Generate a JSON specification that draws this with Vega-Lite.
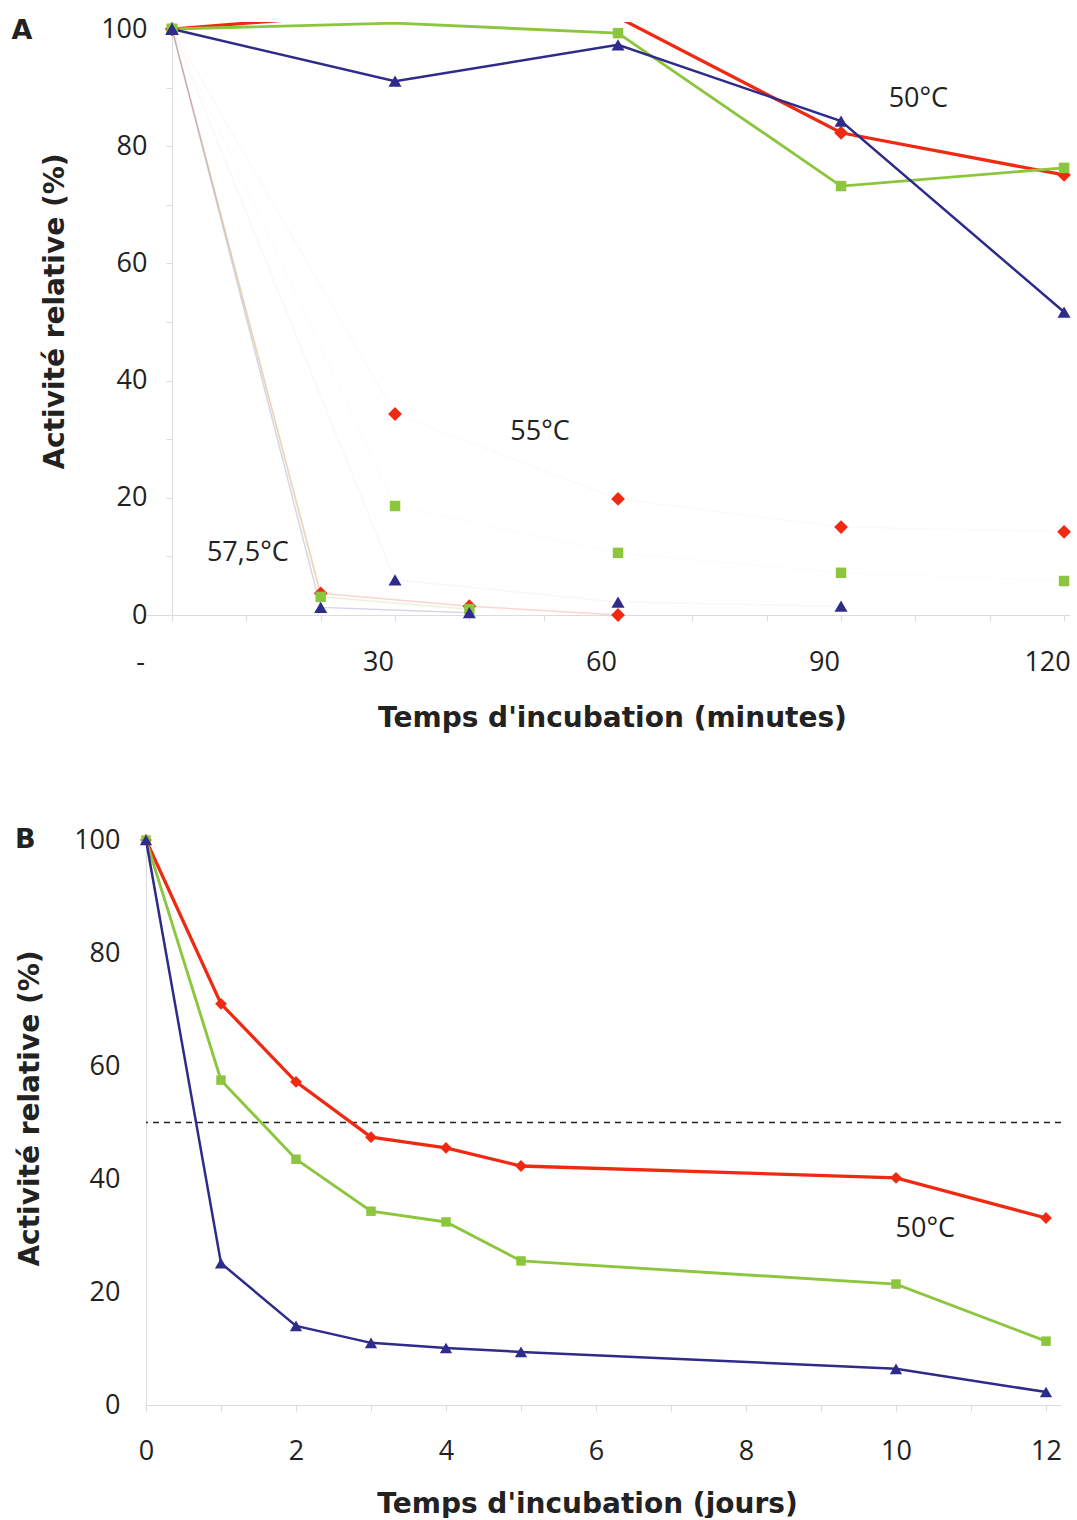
{
  "$schema": "https://vega.github.io/schema/vega-lite/v6.json",
  "background": "white",
  "padding": {"left": 11, "top": 15, "right": 0, "bottom": 0},
  "spacing": 94,
  "config": {
    "view": {"stroke": null},
    "axis": {
      "grid": false,
      "labelFont": "Open Sans",
      "labelFontSize": 27,
      "labelColor": "#222222",
      "titleFont": "DejaVu Sans",
      "titleFontSize": 28,
      "titleFontWeight": "bold",
      "titleColor": "#222222",
      "domainColor": "#dcdcdc",
      "tickColor": "#dcdcdc",
      "tickSize": 6,
      "labelOverlap": false,
      "labelFlush": false
    },
    "text": {"font": "Open Sans", "fontSize": 27, "color": "#222222"}
  },
  "datasets": {
    "minutes": [
      {"lot": "1", "temp": "50", "t": 0, "v": 100},
      {"lot": "1", "temp": "50", "t": 30, "v": 103},
      {"lot": "1", "temp": "50", "t": 60, "v": 102},
      {"lot": "1", "temp": "50", "t": 90, "v": 82.3},
      {"lot": "1", "temp": "50", "t": 120, "v": 75.1},
      {"lot": "2", "temp": "50", "t": 0, "v": 100},
      {"lot": "2", "temp": "50", "t": 30, "v": 101},
      {"lot": "2", "temp": "50", "t": 60, "v": 99.3},
      {"lot": "2", "temp": "50", "t": 90, "v": 73.2},
      {"lot": "2", "temp": "50", "t": 120, "v": 76.3},
      {"lot": "3", "temp": "50", "t": 0, "v": 100},
      {"lot": "3", "temp": "50", "t": 30, "v": 91.1},
      {"lot": "3", "temp": "50", "t": 60, "v": 97.3},
      {"lot": "3", "temp": "50", "t": 90, "v": 84.3},
      {"lot": "3", "temp": "50", "t": 120, "v": 51.7},
      {"lot": "1", "temp": "55", "t": 0, "v": 100},
      {"lot": "1", "temp": "55", "t": 30, "v": 34.3},
      {"lot": "1", "temp": "55", "t": 60, "v": 19.8},
      {"lot": "1", "temp": "55", "t": 90, "v": 15},
      {"lot": "1", "temp": "55", "t": 120, "v": 14.2},
      {"lot": "2", "temp": "55", "t": 0, "v": 100},
      {"lot": "2", "temp": "55", "t": 30, "v": 18.6},
      {"lot": "2", "temp": "55", "t": 60, "v": 10.6},
      {"lot": "2", "temp": "55", "t": 90, "v": 7.2},
      {"lot": "2", "temp": "55", "t": 120, "v": 5.8},
      {"lot": "3", "temp": "55", "t": 0, "v": 100},
      {"lot": "3", "temp": "55", "t": 30, "v": 6.0},
      {"lot": "3", "temp": "55", "t": 60, "v": 2.2},
      {"lot": "3", "temp": "55", "t": 90, "v": 1.5},
      {"lot": "1", "temp": "57,5", "t": 0, "v": 100},
      {"lot": "1", "temp": "57,5", "t": 20, "v": 3.7},
      {"lot": "1", "temp": "57,5", "t": 40, "v": 1.5},
      {"lot": "1", "temp": "57,5", "t": 60, "v": 0},
      {"lot": "2", "temp": "57,5", "t": 0, "v": 100},
      {"lot": "2", "temp": "57,5", "t": 20, "v": 3.1},
      {"lot": "2", "temp": "57,5", "t": 40, "v": 1.0},
      {"lot": "3", "temp": "57,5", "t": 0, "v": 100},
      {"lot": "3", "temp": "57,5", "t": 20, "v": 1.3},
      {"lot": "3", "temp": "57,5", "t": 40, "v": 0.4}
    ],
    "jours": [
      {"lot": "1", "t": 0, "v": 100},
      {"lot": "1", "t": 1, "v": 71},
      {"lot": "1", "t": 2, "v": 57.2},
      {"lot": "1", "t": 3, "v": 47.4},
      {"lot": "1", "t": 4, "v": 45.5},
      {"lot": "1", "t": 5, "v": 42.3},
      {"lot": "1", "t": 10, "v": 40.2},
      {"lot": "1", "t": 12, "v": 33.1},
      {"lot": "2", "t": 0, "v": 100},
      {"lot": "2", "t": 1, "v": 57.5},
      {"lot": "2", "t": 2, "v": 43.5},
      {"lot": "2", "t": 3, "v": 34.3},
      {"lot": "2", "t": 4, "v": 32.4},
      {"lot": "2", "t": 5, "v": 25.5},
      {"lot": "2", "t": 10, "v": 21.4},
      {"lot": "2", "t": 12, "v": 11.3},
      {"lot": "3", "t": 0, "v": 100},
      {"lot": "3", "t": 1, "v": 25.1},
      {"lot": "3", "t": 2, "v": 14},
      {"lot": "3", "t": 3, "v": 11},
      {"lot": "3", "t": 4, "v": 10.1},
      {"lot": "3", "t": 5, "v": 9.4},
      {"lot": "3", "t": 10, "v": 6.4},
      {"lot": "3", "t": 12, "v": 2.3}
    ],
    "notes_minutes": [
      {"type": "panneau", "label": "A", "t": -20.2, "v": 99.7},
      {"type": "temp", "label": "50°C", "t": 100.4, "v": 88.1},
      {"type": "temp", "label": "55°C", "t": 49.5, "v": 31.2},
      {"type": "temp", "label": "57,5°C", "t": 10.2, "v": 10.6}
    ],
    "notes_jours": [
      {"type": "panneau", "label": "B", "t": -1.61, "v": 100},
      {"type": "temp", "label": "50°C", "t": 10.39, "v": 31.2}
    ],
    "seuil": [{"v": 50}]
  },
  "vconcat": [
    {
      "width": 924,
      "height": 593,
      "layer": [
        {
          "data": {"name": "minutes"},
          "transform": [{"filter": "datum.temp != '50'"}],
          "mark": {"type": "line", "clip": true, "strokeWidth": 1.5},
          "encoding": {
            "x": {
              "field": "t", "type": "quantitative",
              "scale": {"domain": [-3.5, 120.8], "nice": false, "zero": false},
              "axis": {
                "values": [0, 10, 20, 30, 40, 50, 60, 70, 80, 90, 100, 110, 120],
                "labelExpr": "datum.value == 0 ? '-' : (datum.value % 30 == 0 ? datum.label : '')",
                "labelOffset": {"condition": {"test": "datum.value == 0", "value": -32}, "value": -17},
                "labelPadding": 28,
                "title": "Temps d'incubation (minutes)",
                "titleX": 466, "titleY": 103,
                "titleBaseline": "middle", "titleAlign": "center"
              }
            },
            "y": {
              "field": "v", "type": "quantitative",
              "scale": {"domain": [0, 101.2], "nice": false},
              "axis": {
                "values": [0, 10, 20, 30, 40, 50, 60, 70, 80, 90, 100],
                "labelExpr": "datum.value % 20 == 0 ? datum.label : ''",
                "offset": -26,
                "labelPadding": 19,
                "title": "Activité relative (%)",
                "titleX": -117, "titleY": 289,
                "titleBaseline": "middle", "titleAlign": "center", "titleAngle": -90
              }
            },
            "color": {"field": "lot", "type": "nominal", "scale": {"domain": ["1", "2", "3"], "range": ["#f02a12", "#8cc63f", "#2e2b8a"]}, "legend": null},
            "detail": {"field": "temp"},
            "opacity": {"field": "temp", "type": "nominal", "scale": {"domain": ["55", "57,5"], "range": [0.03, 0.2]}, "legend": null}
          }
        },
        {
          "data": {"name": "minutes"},
          "transform": [{"filter": "datum.temp == '50'"}],
          "mark": {"type": "line", "clip": true},
          "encoding": {
            "x": {"field": "t", "type": "quantitative"},
            "y": {"field": "v", "type": "quantitative"},
            "color": {"field": "lot", "type": "nominal", "legend": null},
            "strokeWidth": {"field": "lot", "type": "nominal", "scale": {"domain": ["1", "2", "3"], "range": [3.3, 2.5, 3.3]}, "legend": null}
          }
        },
        {
          "data": {"name": "minutes"},
          "transform": [{"filter": "datum.v <= 100.5 && datum.lot == '1'"}],
          "mark": {"type": "point", "filled": true, "opacity": 1, "shape": "diamond", "size": 190},
          "encoding": {
            "x": {"field": "t", "type": "quantitative"},
            "y": {"field": "v", "type": "quantitative"},
            "color": {"field": "lot", "type": "nominal", "legend": null}
          }
        },
        {
          "data": {"name": "minutes"},
          "transform": [{"filter": "datum.v <= 100.5 && datum.lot == '2'"}],
          "mark": {"type": "point", "filled": true, "opacity": 1, "shape": "square", "size": 110},
          "encoding": {
            "x": {"field": "t", "type": "quantitative"},
            "y": {"field": "v", "type": "quantitative"},
            "color": {"field": "lot", "type": "nominal", "legend": null}
          }
        },
        {
          "data": {"name": "minutes"},
          "transform": [{"filter": "datum.v <= 100.5 && datum.lot == '3'"}],
          "mark": {"type": "point", "filled": true, "opacity": 1, "shape": "triangle-up", "size": 170},
          "encoding": {
            "x": {"field": "t", "type": "quantitative"},
            "y": {"field": "v", "type": "quantitative"},
            "color": {"field": "lot", "type": "nominal", "legend": null}
          }
        },
        {
          "data": {"name": "notes_minutes"},
          "transform": [{"filter": "datum.type == 'temp'"}],
          "mark": {"type": "text", "align": "center", "baseline": "middle"},
          "encoding": {
            "x": {"field": "t", "type": "quantitative"},
            "y": {"field": "v", "type": "quantitative"},
            "text": {"field": "label"}
          }
        },
        {
          "data": {"name": "notes_minutes"},
          "transform": [{"filter": "datum.type == 'panneau'"}],
          "mark": {"type": "text", "align": "center", "baseline": "middle", "font": "DejaVu Sans", "fontWeight": "bold", "fontSize": 27},
          "encoding": {
            "x": {"field": "t", "type": "quantitative"},
            "y": {"field": "v", "type": "quantitative"},
            "text": {"field": "label"}
          }
        }
      ]
    },
    {
      "width": 915,
      "height": 565,
      "layer": [
        {
          "data": {"name": "seuil"},
          "mark": {"type": "rule", "color": "#222222", "strokeWidth": 1.5, "strokeDash": [6, 5]},
          "encoding": {
            "y": {
              "field": "v", "type": "quantitative",
              "scale": {"domain": [0, 100], "nice": false},
              "axis": {
                "values": [0, 20, 40, 60, 80, 100],
                "tickSize": 0,
                "labelPadding": 26,
                "title": "Activité relative (%)",
                "titleX": -116, "titleY": 268,
                "titleBaseline": "middle", "titleAlign": "center", "titleAngle": -90
              }
            }
          }
        },
        {
          "data": {"name": "jours"},
          "mark": {"type": "line", "clip": true},
          "encoding": {
            "x": {
              "field": "t", "type": "quantitative",
              "scale": {"domain": [0, 12.2], "nice": false, "zero": false},
              "axis": {
                "values": [0, 1, 2, 3, 4, 5, 6, 7, 8, 9, 10, 11, 12],
                "format": "d",
                "labelExpr": "datum.value % 2 == 0 ? datum.label : ''",
                "labelPadding": 27,
                "title": "Temps d'incubation (jours)",
                "titleX": 441, "titleY": 99,
                "titleBaseline": "middle", "titleAlign": "center"
              }
            },
            "y": {"field": "v", "type": "quantitative"},
            "color": {"field": "lot", "type": "nominal", "scale": {"domain": ["1", "2", "3"], "range": ["#f02a12", "#8cc63f", "#2e2b8a"]}, "legend": null},
            "strokeWidth": {"field": "lot", "type": "nominal", "scale": {"domain": ["1", "2", "3"], "range": [3.3, 2.5, 3.3]}, "legend": null}
          }
        },
        {
          "data": {"name": "jours"},
          "transform": [{"filter": "datum.lot == '1'"}],
          "mark": {"type": "point", "filled": true, "opacity": 1, "shape": "diamond", "size": 140},
          "encoding": {
            "x": {"field": "t", "type": "quantitative"},
            "y": {"field": "v", "type": "quantitative"},
            "color": {"field": "lot", "type": "nominal", "legend": null}
          }
        },
        {
          "data": {"name": "jours"},
          "transform": [{"filter": "datum.lot == '2'"}],
          "mark": {"type": "point", "filled": true, "opacity": 1, "shape": "square", "size": 90},
          "encoding": {
            "x": {"field": "t", "type": "quantitative"},
            "y": {"field": "v", "type": "quantitative"},
            "color": {"field": "lot", "type": "nominal", "legend": null}
          }
        },
        {
          "data": {"name": "jours"},
          "transform": [{"filter": "datum.lot == '3'"}],
          "mark": {"type": "point", "filled": true, "opacity": 1, "shape": "triangle-up", "size": 150},
          "encoding": {
            "x": {"field": "t", "type": "quantitative"},
            "y": {"field": "v", "type": "quantitative"},
            "color": {"field": "lot", "type": "nominal", "legend": null}
          }
        },
        {
          "data": {"name": "notes_jours"},
          "transform": [{"filter": "datum.type == 'temp'"}],
          "mark": {"type": "text", "align": "center", "baseline": "middle"},
          "encoding": {
            "x": {"field": "t", "type": "quantitative"},
            "y": {"field": "v", "type": "quantitative"},
            "text": {"field": "label"}
          }
        },
        {
          "data": {"name": "notes_jours"},
          "transform": [{"filter": "datum.type == 'panneau'"}],
          "mark": {"type": "text", "align": "center", "baseline": "middle", "font": "DejaVu Sans", "fontWeight": "bold", "fontSize": 27},
          "encoding": {
            "x": {"field": "t", "type": "quantitative"},
            "y": {"field": "v", "type": "quantitative"},
            "text": {"field": "label"}
          }
        }
      ]
    }
  ]
}
